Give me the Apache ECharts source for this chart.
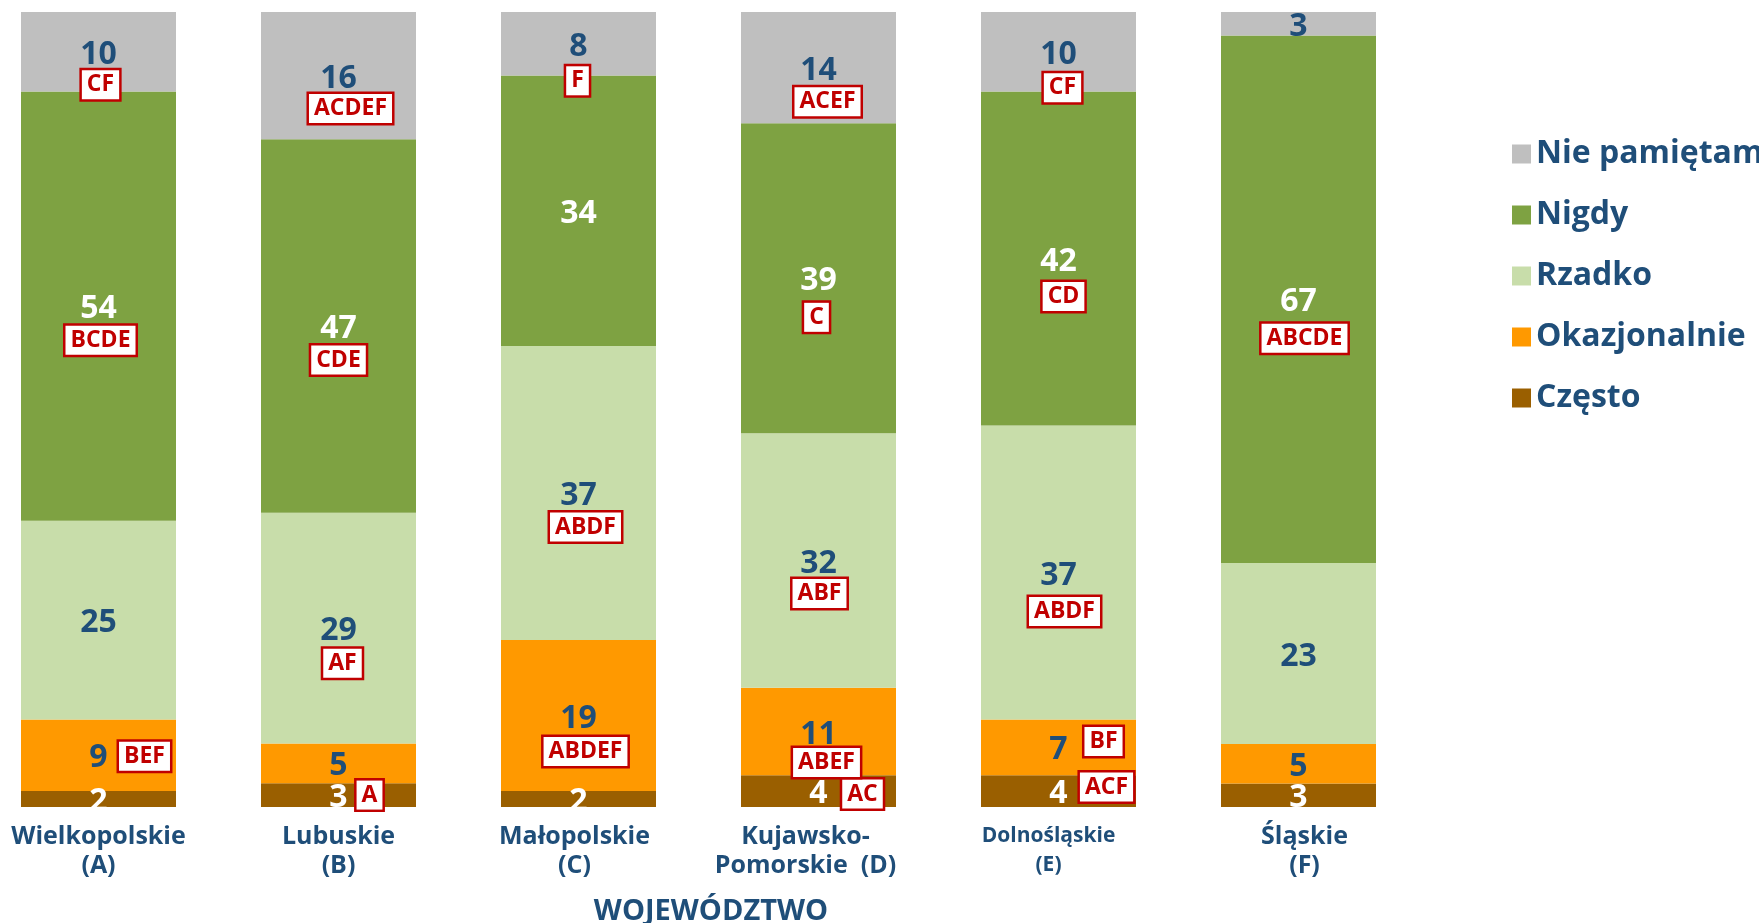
<!DOCTYPE html>
<html><head><meta charset="utf-8">
<script src="https://cdn.jsdelivr.net/npm/echarts@6/dist/echarts.min.js"></script>
<style>html,body{margin:0;padding:0;background:#fff}#c{width:1759px;height:923px}</style>
</head><body><div id="c"></div>
<script>
// ---- data ----
const categories = ['Wielkopolskie\n(A)', 'Lubuskie\n(B)', 'Małopolskie\n(C)', 'Kujawsko-\nPomorskie  (D)', 'Dolnośląskie\n(E)', 'Śląskie\n(F)'];
const seriesNames = ['Często', 'Okazjonalnie', 'Rzadko', 'Nigdy', 'Nie pamiętam'];
const czesto       = [2, 3, 2, 4, 4, 3];
const okazjonalnie = [9, 5, 19, 11, 7, 5];
const rzadko       = [25, 29, 37, 32, 37, 23];
const nigdy        = [54, 47, 34, 39, 42, 67];
const niePamietam  = [10, 16, 8, 14, 10, 3];
// significance letters (which regions differ)
const czestoSig       = ['', 'A', '', 'AC', 'ACF', ''];
const okazjonalnieSig = ['BEF', '', 'ABDEF', 'ABEF', 'BF', ''];
const rzadkoSig       = ['', 'AF', 'ABDF', 'ABF', 'ABDF', ''];
const nigdySig        = ['BCDE', 'CDE', '', 'C', 'CD', 'ABCDE'];
const niePamietamSig  = ['CF', 'ACDEF', 'F', 'ACEF', 'CF', ''];
const axisTitle = 'WOJEWÓDZTWO';

// ---- layout / style (not data) ----
const colors = ['#9A5F00', '#FF9900', '#C8DDAA', '#7EA242', '#BFBFBF'];
const labelColors = ['#FFFFFF', '#1F4E79', '#1F4E79', '#FFFFFF', '#1F4E79'];
// pixel offset of each significance box from its segment's centre
const boxOffsets = [
  [null, [31, 0], null, [44, 3], [48, -4], null],
  [[46, 1], null, [7, 36], [8, 31], [45, -6], null],
  [null, [4, 35], [7, 34], [1, 33], [6, 39], null],
  [[2, 34], [0, 34], null, [-2, 39], [5, 38], [6, 39]],
  [[2, 33], [12, 33], [-1, 37], [9, 34], [4, 36], null]
];
// horizontal nudge of category labels (px, negative = left)
const catLabelShift = [0, 0, -4, -13, -10, 6];

const rawRows = [czesto, okazjonalnie, rzadko, nigdy, niePamietam];
const sigRows = [czestoSig, okazjonalnieSig, rzadkoSig, nigdySig, niePamietamSig];
const totals = categories.map((_, c) => rawRows.reduce((a, r) => a + r[c], 0));
const norm = rawRows.map(r => r.map((v, c) => v / totals[c] * 100));

const FONT = '"Open Sans", Lato, sans-serif';
const NAVY = '#1F4E79';

const series = seriesNames.map((name, s) => ({
  name, type: 'bar', stack: 'total', barWidth: 155,
  itemStyle: { color: colors[s] },
  label: {
    show: true, position: 'inside', offset: [0, 3],
    formatter: p => String(rawRows[s][p.dataIndex]),
    color: labelColors[s], fontFamily: FONT, fontWeight: 'bold', fontSize: 32
  },
  data: norm[s]
}));

const boxData = [];
sigRows.forEach((row, s) => {
  row.forEach((sig, c) => {
    if (!sig) return;
    let base = 0;
    for (let k = 0; k < s; k++) base += norm[k][c];
    const off = boxOffsets[s][c] || [0, 34];
    boxData.push({ value: [c, base + norm[s][c] / 2], sig, label: { offset: off } });
  });
});
series.push({
  type: 'scatter', name: 'sig', z: 10, silent: true,
  symbol: 'rect', symbolSize: 1, itemStyle: { color: 'rgba(0,0,0,0)', opacity: 1 },
  label: {
    show: true, position: 'inside', formatter: p => p.data.sig, opacity: 1,
    color: '#C00000', fontFamily: FONT, fontWeight: 'bold', fontSize: 23, lineHeight: 23,
    backgroundColor: '#FFFFFF', borderColor: '#C00000', borderWidth: 2.5,
    padding: [4, 5, 2, 5]
  },
  data: boxData
});

const richStyles = {};
catLabelShift.forEach((sh, i) => {
  const small = i === 4;
  richStyles['c' + i] = {
    color: NAVY, fontFamily: FONT, fontWeight: 'bold',
    fontSize: small ? 21 : 25, lineHeight: small ? 29 : 29,
    padding: sh < 0 ? [0, -2 * sh, 0, 0] : [0, 0, 0, 2 * sh]
  };
});

const chart = echarts.init(document.getElementById('c'), null, { renderer: 'canvas' });
chart.setOption({
  animation: false,
  backgroundColor: '#FFFFFF',
  grid: { left: -21.5, width: 1440, top: 12, bottom: 116, containLabel: false, outerBoundsMode: 'none' },
  legend: {
    orient: 'vertical', left: 1507, top: 133,
    data: seriesNames.slice().reverse(),
    icon: 'rect', itemWidth: 19, itemHeight: 19, itemGap: 29,
    textStyle: { color: NAVY, fontFamily: FONT, fontWeight: 'bold', fontSize: 32, lineHeight: 32 }
  },
  xAxis: {
    type: 'category', data: categories,
    axisLine: { show: false }, axisTick: { show: false },
    axisLabel: {
      margin: 15, interval: 0,
      formatter: (v, i) => v.split('\n').map(l => '{c' + i + '|' + l + '}').join('\n'),
      rich: richStyles
    },
    name: axisTitle, nameLocation: 'middle', nameGap: 91,
    nameTextStyle: { color: NAVY, fontFamily: FONT, fontWeight: 'bold', fontSize: 29, lineHeight: 28, padding: [0, 0, 0, 25] }
  },
  yAxis: { type: 'value', min: 0, max: 100, show: false },
  series
});
</script>
</body></html>
